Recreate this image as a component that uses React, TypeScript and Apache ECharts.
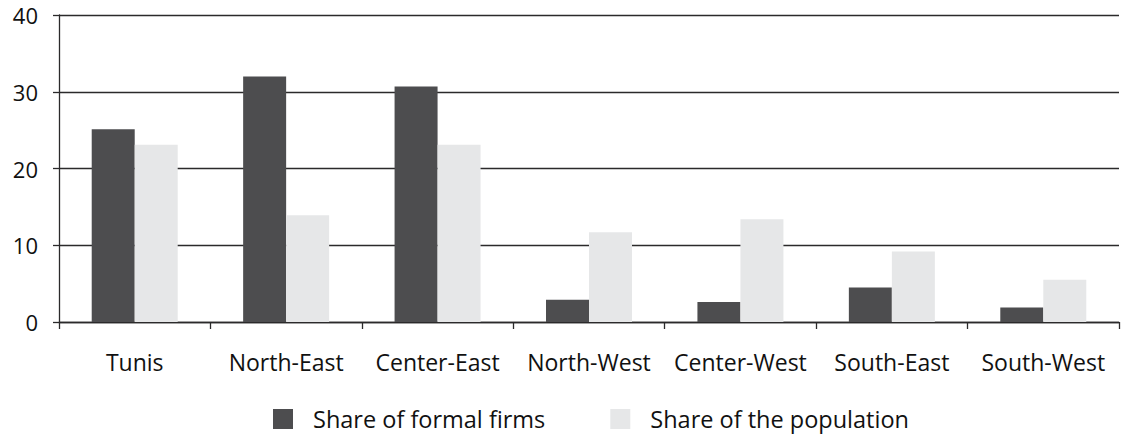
import React, { useEffect, useRef } from "react";
import * as echarts from "echarts";

const categories = ["Tunis", "North-East", "Center-East", "North-West", "Center-West", "South-East", "South-West"];
const formalFirms = [25.1, 32.0, 30.7, 2.9, 2.6, 4.5, 1.9];
const population = [23.1, 13.9, 23.1, 11.7, 13.4, 9.2, 5.5];
const yTicks = [0, 10, 20, 30, 40];

const FONT = "'Open Sans', 'Noto Sans', sans-serif";
const LINE = "#2b2a2b";

export default function App() {
  const ref = useRef<HTMLDivElement>(null);
  useEffect(() => {
    if (!ref.current) return;
    const chart = echarts.init(ref.current, undefined, { renderer: "svg" });
    chart.setOption({
      animation: false,
      textStyle: { fontFamily: FONT },
      grid: { left: 59, right: 4, top: 15, bottom: 112, containLabel: false },
      legend: {
        left: 273,
        top: 407,
        padding: 0,
        itemWidth: 20,
        itemHeight: 20,
        itemGap: 65,
        icon: "rect",
        textStyle: { fontFamily: FONT, fontSize: 23.5, lineHeight: 22, color: "#111", padding: [0, 0, 0, 15] },
        data: ["Share of formal firms", "Share of the population"],
      },
      xAxis: {
        type: "category",
        data: categories,
        axisLine: { show: true, lineStyle: { color: LINE, width: 1.3 } },
        axisTick: { show: true, length: 7, lineStyle: { color: LINE, width: 1.3 } },
        axisLabel: { fontFamily: FONT, fontSize: 23, color: "#111", margin: 28, interval: 0 },
      },
      yAxis: {
        type: "value",
        min: yTicks[0],
        max: yTicks[yTicks.length - 1],
        interval: 10,
        axisLine: { show: true, lineStyle: { color: LINE, width: 1.3 } },
        axisTick: { show: true, length: 6, lineStyle: { color: LINE, width: 1.3 } },
        splitLine: { show: true, lineStyle: { color: LINE, width: 1.3 } },
        axisLabel: { fontFamily: FONT, fontSize: 22, color: "#111", margin: 21 },
      },
      series: [
        {
          name: "Share of formal firms",
          type: "bar",
          data: formalFirms,
          barWidth: 43,
          barGap: "0%",
          itemStyle: { color: "#4d4d4f" },
        },
        {
          name: "Share of the population",
          type: "bar",
          data: population,
          barWidth: 43,
          barGap: "0%",
          itemStyle: { color: "#e6e7e8" },
        },
      ],
    });
    return () => chart.dispose();
  }, []);
  return <div ref={ref} style={{ width: 1123, height: 434, position: "absolute", left: 0, top: 0 }} />;
}
